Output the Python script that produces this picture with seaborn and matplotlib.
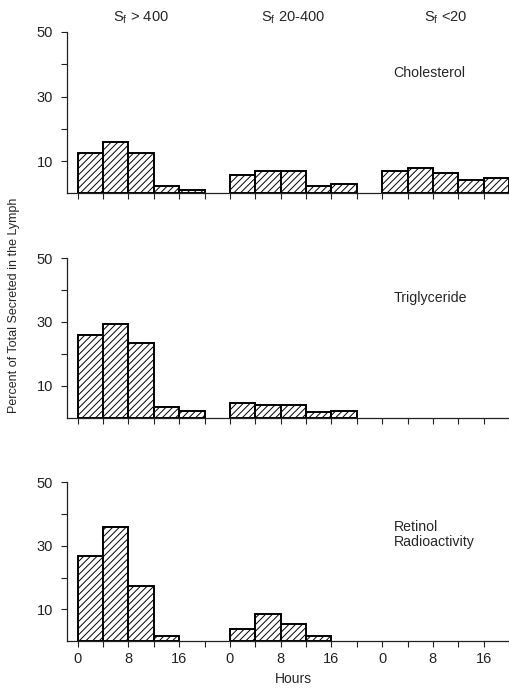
import numpy as np
import pandas as pd
import matplotlib
matplotlib.use("Agg")
import matplotlib.pyplot as plt
import seaborn as sns

# bin starts (hours) and percent of total secreted, per fraction
hours = [0, 4, 8, 12, 16]
fractions = ["S$_\\mathregular{f}$ > 400", "S$_\\mathregular{f}$ 20-400", "S$_\\mathregular{f}$ <20"]
panels = ["Cholesterol", "Triglyceride", "Retinol\nRadioactivity"]

chol_high = [12.6, 15.9, 12.6, 2.2, 0.9]
chol_mid = [5.7, 6.8, 6.8, 2.2, 2.9]
chol_low = [7.0, 8.0, 6.4, 4.1, 4.6]

trig_high = [25.9, 29.2, 23.5, 3.4, 2.1]
trig_mid = [4.7, 4.0, 4.0, 1.8, 2.2]
trig_low = [0, 0, 0, 0, 0]

ret_high = [26.8, 35.9, 17.3, 1.7, 0]
ret_mid = [3.8, 8.4, 5.4, 1.5, 0]
ret_low = [0, 0, 0, 0, 0]

data = [[chol_high, chol_mid, chol_low],
        [trig_high, trig_mid, trig_low],
        [ret_high, ret_mid, ret_low]]

sns.set_style("ticks")
plt.rcParams["font.family"] = ["Liberation Sans", "DejaVu Sans"]
plt.rcParams["hatch.linewidth"] = 0.7
plt.rcParams["hatch.color"] = "black"

fig = plt.figure(figsize=(5.09, 6.88), dpi=100)

gap = 24  # hours between the start of each fraction block
boxes = [[0.1316, 0.719, 0.8684, 0.2345],
         [0.1316, 0.393, 0.8684, 0.232],
         [0.1316, 0.0683, 0.8684, 0.2307]]
label_y = [37.2, 37.5, 33.5]

for row in range(3):
    ax = fig.add_axes(boxes[row])
    for g in range(3):
        vals = data[row][g]
        off = g * gap
        n = max([i + 1 for i, v in enumerate(vals) if v > 0], default=0)
        if n == 0:
            continue
        df = pd.DataFrame({"hour": np.array(hours[:n]) + off + 2, "pct": vals[:n]})
        edges = [h + off for h in hours[:n]] + [hours[n - 1] + off + 4]
        sns.histplot(data=df, x="hour", weights="pct", bins=edges, ax=ax,
                     color="white", edgecolor="black", linewidth=1.4,
                     hatch="/////", alpha=1)

    ax.set_xlim(-1.7, 67.5)
    ax.set_ylim(0, 50)
    ax.set_yticks([10, 20, 30, 40, 50])
    ax.set_yticklabels(["10", "", "30", "", "50"], fontsize=10.5)
    xt = [off + h for off in (0, gap, 2 * gap) for h in (0, 4, 8, 12, 16, 20)]
    ax.set_xticks(xt)
    if row == 2:
        ax.set_xticklabels([str(h) if h in (0, 8, 16) else "" for _ in range(3)
                            for h in (0, 4, 8, 12, 16, 20)], fontsize=10.5)
    else:
        ax.set_xticklabels([])
    ax.set_xlabel("")
    ax.set_ylabel("")
    ax.tick_params(axis="y", length=4, width=0.8, pad=6, colors="#222222")
    ax.tick_params(axis="x", length=4, width=0.8, pad=4, colors="#222222")
    sns.despine(ax=ax)
    for s in ("left", "bottom"):
        ax.spines[s].set_linewidth(0.9)
        ax.spines[s].set_color("#222222")

    ax.text(49.8, label_y[row], panels[row], fontsize=10.2, ha="left",
            va="center", linespacing=1.15)

    if row == 0:
        for g in range(3):
            ax.text(g * gap + 10, 54.5, fractions[g], fontsize=10.5,
                    ha="center", va="center")

fig.text(14 / 509, 1 - 305 / 688, "Percent of Total Secreted in the Lymph",
         rotation=90, ha="center", va="center", fontsize=9)
fig.text(293 / 509, 0.003, "Hours", ha="center", va="bottom", fontsize=10)

fig.savefig("out.png", dpi=100)
